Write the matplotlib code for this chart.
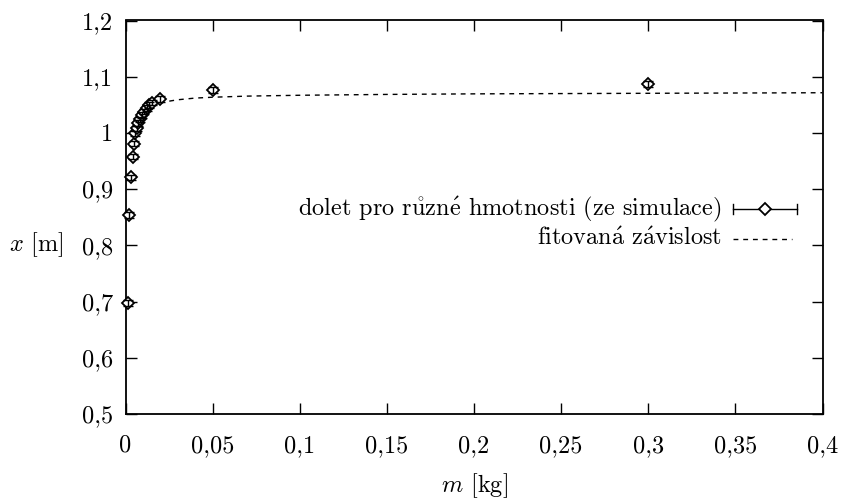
import numpy as np
import matplotlib
matplotlib.use('Agg')
import matplotlib.pyplot as plt
from matplotlib.ticker import FixedLocator, FuncFormatter

plt.rcParams['font.family'] = ['cmr10', 'DejaVu Serif']
plt.rcParams['mathtext.fontset'] = 'cm'
plt.rcParams['axes.formatter.use_mathtext'] = True

# simulated range for different masses
m_sim = [0.0016, 0.0022, 0.0033, 0.0041, 0.005, 0.0054, 0.0064, 0.0073, 0.0083,
         0.0096, 0.0108, 0.0122, 0.0137, 0.0152, 0.0198, 0.05, 0.3]
x_sim = [0.697, 0.854, 0.921, 0.958, 0.981, 0.999, 1.008, 1.018, 1.024,
         1.032, 1.038, 1.044, 1.050, 1.054, 1.060, 1.076, 1.087]
x_err = 0.005

# fitted dependence
m_fit = [0.01, 0.015, 0.02, 0.025, 0.03, 0.04, 0.05, 0.07, 0.1, 0.15, 0.2, 0.3, 0.4]
x_fit = [1.036, 1.047, 1.053, 1.0565, 1.059, 1.062, 1.0635, 1.0655, 1.067,
         1.0685, 1.0695, 1.0705, 1.0715]

xticks = [0, 0.05, 0.1, 0.15, 0.2, 0.25, 0.3, 0.35, 0.4]
yticks = [0.5, 0.6, 0.7, 0.8, 0.9, 1.0, 1.1, 1.2]

FS = 17.5
fig = plt.figure(figsize=(8.41, 5.0), dpi=100)
ax = fig.add_axes([125.5/841, 86/500, 697/841, 393.5/500])

ax.plot(m_fit, x_fit, color='black', lw=1.0, ls=(0, (3.5, 3.5)), zorder=2)
ax.plot(m_sim, x_sim, 'D', ms=6, mfc='white', mec='black', mew=1.3,
        zorder=3, clip_on=False)
ax.errorbar(m_sim, x_sim, yerr=x_err, fmt='none', ecolor='black',
            elinewidth=1.0, capsize=3.5, capthick=1.0, zorder=4, clip_on=False)

ax.set_xlim(0, 0.4)
ax.set_ylim(0.5, 1.2)

def comma(v, pos):
    return ('%g' % v).replace('.', ',')

ax.xaxis.set_major_locator(FixedLocator(xticks))
ax.yaxis.set_major_locator(FixedLocator(yticks))
ax.xaxis.set_major_formatter(FuncFormatter(comma))
ax.yaxis.set_major_formatter(FuncFormatter(comma))
ax.tick_params(direction='in', length=8, width=1.0, top=True, right=True,
               labelsize=FS)
ax.tick_params(axis='x', pad=15)
ax.tick_params(axis='y', pad=9)
for s in ax.spines.values():
    s.set_linewidth(1.3)

ax.set_xlabel(r'$m$ [kg]', fontsize=FS, labelpad=10)
ax.set_ylabel(r'$x$ [m]', fontsize=FS, rotation=0, ha='center', va='center')
ax.yaxis.set_label_coords(-0.128, 0.43)

# key
tr = ax.transAxes
def ax_x(px):
    return (px - 125.5) / 697
def ax_y(py):
    return (414 - py) / 393.5

ax.text(ax_x(722), ax_y(209),
        r'dolet pro r$\mathring{\mathrm{u}}$zn$\acute{\mathrm{e}}$ hmotnosti (ze simulace)',
        transform=tr, ha='right', va='center', fontsize=FS)
ax.text(ax_x(722), ax_y(239), r'fitovan$\acute{\mathrm{a}}$ z$\acute{\mathrm{a}}$vislost',
        transform=tr, ha='right', va='center', fontsize=FS)
ax.plot([ax_x(733), ax_x(797)], [ax_y(209)] * 2, transform=tr, color='black', lw=1.0)
for px in (733, 797):
    ax.plot([ax_x(px)] * 2, [ax_y(204), ax_y(214)], transform=tr, color='black', lw=1.0)
ax.plot([ax_x(765)], [ax_y(209)], transform=tr, marker='D', ms=6, mfc='white',
        mec='black', mew=1.3)
ax.plot([ax_x(733), ax_x(792)], [ax_y(239)] * 2, transform=tr, color='black',
        lw=1.0, ls=(0, (3.5, 3.5)))

fig.savefig('out.png', dpi=100, facecolor='white')
